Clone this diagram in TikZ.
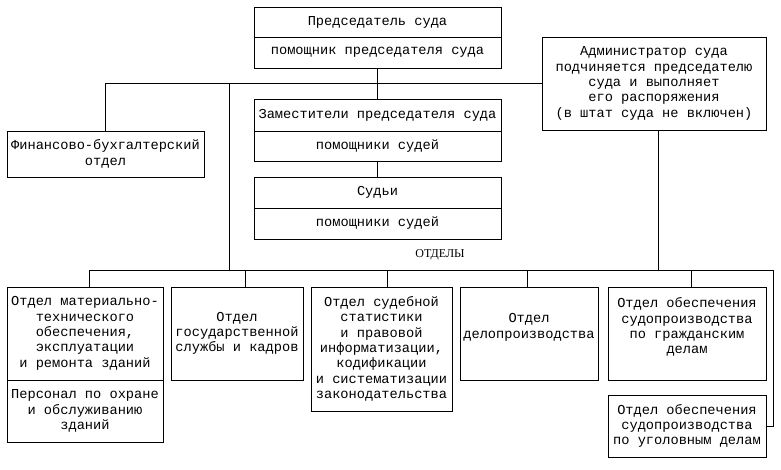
\documentclass[tikz,border=0pt]{standalone}
\usepackage{fontspec}
\newfontfamily\boxfont{Liberation Mono}
\newfontfamily\labelfont{Liberation Serif}
\usepackage{tikz}
\usetikzlibrary{positioning}

\begin{document}
\begin{tikzpicture}[
    x=0.75pt, y=-0.75pt,
    every node/.style={font=\boxfont\fontsize{10.25pt}{11.5pt}\selectfont},
    box/.style={draw, line width=0.7pt, inner sep=0pt, outer sep=0pt, align=center},
    wide/.style={box, minimum width=185.25pt},
    dept/.style={box, minimum height=69.75pt},
    link/.style={line width=0.7pt}
]
\useasboundingbox (0,0) rectangle (781,469);
% president and deputies
\node[wide, minimum height=22.5pt] (pres) at (377.5,22) {Председатель суда};
\node[wide, minimum height=23.25pt, below=0pt of pres] (presA) {помощник председателя суда};
\node[wide, minimum height=24pt, below=23.25pt of presA] (dep) {Заместители председателя суда};
\node[wide, minimum height=22.5pt, below=0pt of dep] (depA) {помощники судей};
\node[wide, minimum height=23.25pt, below=12pt of depA] (jud) {Судьи};
\node[wide, minimum height=23.25pt, below=0pt of jud] (judA) {помощники судей};

\node[box, minimum width=168pt, minimum height=69.75pt] (adm) at (654,83.5)
    {Администратор суда\\подчиняется председателю\\суда и выполняет\\его распоряжения\\(в штат суда не включен)};
\node[box, minimum width=147.75pt, minimum height=34.5pt] (fin) at (105.5,154)
    {Финансово-бухгалтерский\\отдел};

\node[font=\labelfont\fontsize{9pt}{10pt}\selectfont] (otd) at (440,255) {ОТДЕЛЫ};

% departments
\node[dept, minimum width=117pt] (b1) at (85,333.5)
    {Отдел материально-\\технического\\обеспечения,\\эксплуатации\\и ремонта зданий};
\node[box, minimum width=117pt, minimum height=46.5pt, below=0pt of b1] (b1A)
    {Персонал по охране\\и обслуживанию\\зданий};
\node[dept, minimum width=99pt] (b2) at (237,333.5)
    {Отдел\\государственной\\службы и кадров};
\node[box, minimum width=105.75pt, minimum height=93pt] (b3) at (381.5,349)
    {Отдел судебной\\статистики\\и правовой\\информатизации,\\кодификации\\и систематизации\\законодательства};
\node[dept, minimum width=103.5pt] (b4) at (529,333.5)
    {Отдел\\делопроизводства\\~};
\node[dept, minimum width=118.5pt] (b5) at (687,333.5)
    {Отдел обеспечения\\судопроизводства\\по гражданским\\делам\\~};
\node[box, minimum width=118.5pt, minimum height=46.5pt] (b6) at (687,426)
    {Отдел обеспечения\\судопроизводства\\по уголовным делам};

% connectors
\coordinate (tap) at (229,83.5);
\coordinate (bus) at (229,270);
\coordinate (busE) at (773,270);

\draw[link] (presA) -- (dep);
\draw[link] (depA) -- (jud);
\draw[link] (fin.north) |- (adm.west);
\draw[link] (tap) -- (bus);
\draw[link] ([xshift=3pt]b1.north) |- (busE);
\draw[link] ([xshift=3pt]adm.south) -- ([xshift=3pt]adm.south |- busE);
\foreach \b/\dx in {b2/6pt, b3/4.1pt, b4/-1.5pt, b5/3pt}
    \draw[link] ([xshift=\dx]\b.north) -- ([xshift=\dx]\b.north |- busE);
\draw[link] (busE) |- (b6.east);
\end{tikzpicture}
\end{document}
